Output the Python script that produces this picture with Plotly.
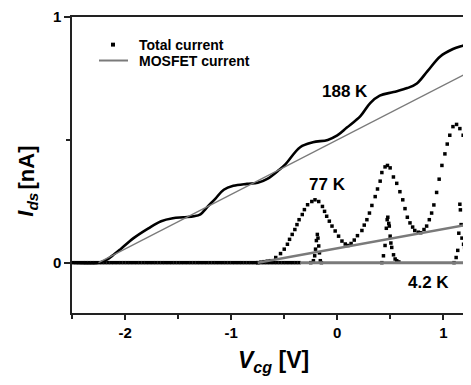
import plotly.graph_objects as go

# ---------------- data ----------------
# 188 K total current
v_188 = [-2.50, -2.25, -2.18, -2.10, -2.04, -1.92, -1.78, -1.66, -1.55, -1.45, -1.35, -1.29,
         -1.22, -1.15, -1.07, -0.98, -0.85, -0.75, -0.66, -0.55, -0.49, -0.35, -0.23, -0.09,
         0.00, 0.09, 0.22, 0.31, 0.40, 0.53, 0.66, 0.75, 0.85, 0.97, 1.09, 1.22, 1.26]
i_188 = [0.0, 0.0, 0.01, 0.035, 0.056, 0.10, 0.14, 0.169, 0.181, 0.185, 0.189, 0.197,
         0.229, 0.26, 0.297, 0.313, 0.321, 0.325, 0.341, 0.377, 0.40, 0.47, 0.49, 0.50,
         0.518, 0.55, 0.598, 0.65, 0.68, 0.695, 0.711, 0.73, 0.78, 0.84, 0.87, 0.89, 0.90]

# 77 K total current
v_77 = [-0.75, -0.72, -0.69, -0.66, -0.63, -0.58, -0.535, -0.50, -0.47, -0.45, -0.425, -0.40,
        -0.38, -0.36, -0.33, -0.31, -0.28, -0.24, -0.21, -0.175, -0.14, -0.12, -0.10, -0.075,
        -0.05, -0.02, 0.012, 0.044, 0.075, 0.10, 0.13, 0.16, 0.19, 0.232, 0.254, 0.279, 0.303,
        0.326, 0.357, 0.379, 0.404, 0.42, 0.45, 0.473, 0.498, 0.529, 0.56, 0.59, 0.617, 0.638,
        0.66, 0.685, 0.71, 0.73, 0.763, 0.786, 0.817, 0.842, 0.867, 0.889, 0.91, 0.936, 0.96,
        0.986, 1.014, 1.036, 1.06, 1.09, 1.124, 1.155, 1.186, 1.217, 1.242]
i_77 = [0.0, 0.002, 0.004, 0.006, 0.008, 0.021, 0.037, 0.055, 0.075, 0.095, 0.115, 0.135,
        0.155, 0.175, 0.196, 0.216, 0.236, 0.249, 0.256, 0.249, 0.229, 0.209, 0.189, 0.169,
        0.149, 0.129, 0.108, 0.088, 0.076, 0.07, 0.078, 0.092, 0.11, 0.131, 0.153, 0.175, 0.202,
        0.233, 0.269, 0.30, 0.332, 0.367, 0.39, 0.396, 0.386, 0.349, 0.323, 0.289, 0.256, 0.22,
        0.185, 0.162, 0.145, 0.131, 0.124, 0.122, 0.135, 0.149, 0.175, 0.202, 0.235, 0.286, 0.34,
        0.396, 0.443, 0.483, 0.519, 0.554, 0.563, 0.546, 0.519, 0.483, 0.45]

# 4.2 K total current
v_42 = [-2.49, -2.46, -2.43, -2.40, -2.37, -2.34, -2.31, -2.28, -2.25, -2.22, -2.19, -2.16,
        -2.13, -2.10, -2.07, -2.04, -2.01, -1.98, -1.95, -1.92, -1.89, -1.86, -1.83, -1.80,
        -1.77, -1.74, -1.71, -1.68, -1.65, -1.62, -1.59, -1.56, -1.53, -1.50, -1.47, -1.44,
        -1.41, -1.38, -1.35, -1.32, -1.29, -1.26, -1.23, -1.20, -1.17, -1.14, -1.11, -1.08,
        -1.05, -1.02, -0.99, -0.96, -0.93, -0.90, -0.87, -0.84, -0.81, -0.78, -0.75, -0.72,
        -0.69, -0.66, -0.63, -0.60, -0.57, -0.54, -0.51, -0.48, -0.45, -0.42, -0.39, -0.36,
        -0.25, -0.225, -0.213, -0.205, -0.197, -0.188, -0.182, -0.175, -0.168, -0.16, -0.15,
        0.42, 0.435, 0.45, 0.462, 0.47, 0.476, 0.485, 0.49, 0.498, 0.505, 0.513, 0.53, 0.545,
        0.56, 0.58, 1.10, 1.12, 1.135, 1.145, 1.155, 1.16, 1.167, 1.175, 1.19, 1.20, 1.21,
        1.22, 1.24]
i_42 = [0.0] * 72 + [
        0.0, 0.008, 0.028, 0.055, 0.09, 0.115, 0.10, 0.068, 0.04, 0.008, 0.0,
        0.0, 0.028, 0.07, 0.14, 0.175, 0.185, 0.16, 0.149, 0.108, 0.08, 0.062, 0.032, 0.015,
        0.008, 0.003, 0.0, 0.021, 0.05, 0.12, 0.238, 0.215, 0.155, 0.10, 0.075, 0.062, 0.035,
        0.021, 0.005]

# MOSFET currents (straight lines)
v_mos_188 = [-2.25, 1.26]
i_mos_188 = [0.0, 0.78]
v_mos_77 = [-0.75, 1.26]
i_mos_77 = [0.0, 0.157]
v_mos_42 = [-0.35, 1.26]
i_mos_42 = [0.0, 0.0]

x_ticks = [-2, -1, 0, 1]
x_tick_text = ["-2", "-1", "0", "1"]
x_minor = [-2.5, -1.5, -0.5, 0.5]
y_ticks = [0, 1]
y_tick_text = ["0", "1"]
y_minor = [0.5]

temp_labels = ["188 K", "77 K", "4.2 K"]
temp_label_v = [0.075, -0.094, 0.864]
temp_label_i = [0.699, 0.317, -0.08]

legend_labels = ["Total current", "MOSFET current"]

# ---------------- figure ----------------
FONT = "Liberation Sans, Arial, sans-serif"
GRAY = "#7a7a7a"

fig = go.Figure()

fig.add_trace(go.Scatter(x=v_42, y=i_42, mode="markers", name="4.2 K",
                         marker=dict(symbol="square", size=3.5, color="black", line=dict(width=0))))
fig.add_trace(go.Scatter(x=v_188, y=i_188, mode="lines", name="188 K",
                         line=dict(color="black", width=2.6, shape="spline")))
fig.add_trace(go.Scatter(x=v_77, y=i_77, mode="markers", name="77 K",
                         marker=dict(symbol="square", size=3.5, color="black", line=dict(width=0))))
fig.add_trace(go.Scatter(x=v_mos_188, y=i_mos_188, mode="lines", name="MOSFET 188 K",
                         line=dict(color=GRAY, width=1.3)))
fig.add_trace(go.Scatter(x=v_mos_77, y=i_mos_77, mode="lines", name="MOSFET 77 K",
                         line=dict(color=GRAY, width=2.5)))
fig.add_trace(go.Scatter(x=v_mos_42, y=i_mos_42, mode="lines", name="MOSFET 4.2 K",
                         line=dict(color=GRAY, width=3)))

for t, xv, yv in zip(temp_labels, temp_label_v, temp_label_i):
    fig.add_annotation(x=xv, y=yv, xref="x", yref="y", text=t, showarrow=False,
                       font=dict(family=FONT, size=17, color="black", weight="bold"))

# manual legend
fig.add_shape(type="rect", xref="paper", yref="paper", x0=0.0977, x1=0.1078, y0=0.900, y1=0.9133,
              fillcolor="black", line=dict(width=0))
fig.add_shape(type="line", xref="paper", yref="paper", x0=0.0677, x1=0.1404, y0=0.853, y1=0.853,
              line=dict(color=GRAY, width=2))
for lbl, yv in zip(legend_labels, [0.907, 0.853]):
    fig.add_annotation(x=0.163, y=yv, xref="paper", yref="paper", text=lbl, showarrow=False,
                       xanchor="left", yanchor="middle",
                       font=dict(family=FONT, size=14, color="black", weight="bold"))

# axis titles
fig.add_annotation(x=0.506, y=-0.165, xref="paper", yref="paper",
                   text="<i>V</i><sub><i>cg</i></sub> [V]", showarrow=False,
                   xanchor="center", yanchor="middle",
                   font=dict(family=FONT, size=23, color="black", weight="bold"))
fig.add_annotation(x=-0.112, y=0.367, xref="paper", yref="paper",
                   text="<i>I</i><sub><i>ds</i></sub>", showarrow=False, textangle=-90,
                   xanchor="center", yanchor="middle",
                   font=dict(family=FONT, size=22, color="black", weight="bold"))
fig.add_annotation(x=-0.114, y=0.49, xref="paper", yref="paper",
                   text="[nA]", showarrow=False, textangle=-90,
                   xanchor="center", yanchor="middle",
                   font=dict(family=FONT, size=22, color="black", weight="bold"))

axis_common = dict(showgrid=False, zeroline=False, showline=True, linecolor="#222",
                   linewidth=1.5, ticks="outside", tickcolor="#222", tickwidth=1.5,
                   ticklabeloverflow="allow",
                   tickfont=dict(family=FONT, size=15, color="black", weight="bold"))

fig.update_xaxes(range=[-2.5, 1.26], tickvals=x_ticks, ticktext=x_tick_text, ticklen=5,
                 mirror=True,
                 minor=dict(tickvals=x_minor, ticks="outside", ticklen=4, tickcolor="#222", tickwidth=1.5),
                 **axis_common)
fig.update_yaxes(range=[-0.205, 1.0005], tickvals=y_ticks, ticktext=y_tick_text, ticklen=6,
                 minor=dict(tickvals=y_minor, ticks="outside", ticklen=4, tickcolor="#222", tickwidth=1.5),
                 **axis_common)

# the page places the figure 8 px in from the top-left corner of the window
fig.update_layout(
    width=463, height=377,
    margin=dict(l=64, r=0, t=5, b=72),
    paper_bgcolor="white", plot_bgcolor="white",
    font=dict(family=FONT, color="black"),
    showlegend=False,
)

fig.write_html("out.html")
